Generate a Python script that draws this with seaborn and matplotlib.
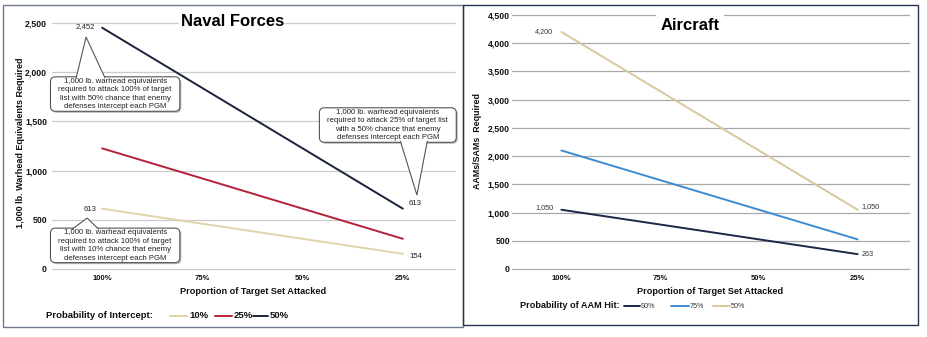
import matplotlib
matplotlib.use("Agg")
import matplotlib.pyplot as plt
import pandas as pd
import seaborn as sns
from matplotlib.lines import Line2D
from matplotlib.patches import Rectangle, FancyBboxPatch, Polygon
from matplotlib.transforms import IdentityTransform

# ---- data -------------------------------------------------------------
proportions = ["100%", "75%", "50%", "25%"]

naval_series = ["10%", "25%", "50%"]
naval_10 = [613, 460, 307, 154]
naval_25 = [1226, 920, 613, 307]
naval_50 = [2452, 1839, 1226, 613]
naval_colors = ["#e0d3aa", "#b3213a", "#1a223a"]
naval_ticks = [0, 500, 1000, 1500, 2000, 2500]

air_series = ["90%", "75%", "50%"]
air_90 = [1050, 788, 525, 263]
air_75 = [2100, 1575, 1050, 525]
air_50 = [4200, 3150, 2100, 1050]
air_colors = ["#1b2946", "#3b8bd0", "#d8c79b"]
air_ticks = [0, 500, 1000, 1500, 2000, 2500, 3000, 3500, 4000, 4500]


def long_frame(series_names, series_values):
    rows = []
    for name, vals in zip(series_names, series_values):
        for p, v in zip(proportions, vals):
            rows.append({"Proportion": p, "Value": v, "Series": name})
    return pd.DataFrame(rows)


naval_df = long_frame(naval_series, [naval_10, naval_25, naval_50])
air_df = long_frame(air_series, [air_90, air_75, air_50])

# ---- style ------------------------------------------------------------
sns.set_style("white")
plt.rcParams["font.family"] = ["Liberation Sans", "DejaVu Sans"]

W, H = 928, 337
fig = plt.figure(figsize=(W / 100, H / 100), dpi=100)


def fx(px):
    return px / W


def fy(py):
    return 1 - py / H


ax1 = fig.add_axes([fx(52), fy(269), fx(403), 246 / H])
ax2 = fig.add_axes([fx(512), fy(269), fx(397), 254 / H])

sns.lineplot(data=naval_df, x="Proportion", y="Value", hue="Series",
             hue_order=naval_series, palette=naval_colors, sort=False,
             legend=False, linewidth=1.4, ax=ax1)
sns.lineplot(data=air_df, x="Proportion", y="Value", hue="Series",
             hue_order=air_series, palette=air_colors, sort=False,
             legend=False, linewidth=1.4, ax=ax2)


def style_axes(ax, ticks, ymax, grid_color, ypad):
    ax.set_xlim(-0.5, 3.52)
    ax.set_ylim(0, ymax)
    ax.set_yticks(ticks)
    ax.set_yticklabels([f"{t:,}" for t in ticks])
    ax.set_xticks(range(len(proportions)))
    ax.set_xticklabels(proportions)
    ax.grid(axis="y", color=grid_color, linewidth=0.9)
    ax.grid(axis="x", visible=False)
    ax.set_axisbelow(True)
    for gl in ax.get_ygridlines():
        gl.set_clip_on(False)
    for s in ax.spines.values():
        s.set_visible(False)
    ax.tick_params(axis="y", length=0, labelsize=6.3, pad=ypad, colors="#111111")
    ax.tick_params(axis="x", length=0, labelsize=5.5, pad=4.5, colors="#111111")
    for lbl in ax.get_xticklabels() + ax.get_yticklabels():
        lbl.set_fontweight("bold")
    ax.set_xlabel("Proportion of Target Set Attacked", fontsize=6.6,
                  fontweight="bold", color="#111111")


style_axes(ax1, naval_ticks, 2500, "#cbcbcb", 3.6)
style_axes(ax2, air_ticks, 4500, "#a9a9a9", 1.5)
ax1.xaxis.set_label_coords(0.5, -0.073)
ax2.xaxis.set_label_coords(0.5, -0.071)

ax1.set_ylabel("1,000 lb. Warhead Equivalents Required", fontsize=6.5,
               fontweight="bold", color="#111111")
ax1.yaxis.set_label_coords(-0.067, 0.514)
ax2.set_ylabel("AAMs/SAMs  Required", fontsize=6.4,
               fontweight="bold", color="#111111")
ax2.yaxis.set_label_coords(-0.0756, 0.502)

# ---- titles -----------------------------------------------------------
ax1.text(0.447, 1.008, "Naval Forces", transform=ax1.transAxes, ha="center",
         va="center", fontsize=12, fontweight="bold", color="#000000",
         bbox=dict(boxstyle="square,pad=0.1", fc="white", ec="none"))
ax2.text(0.448, 0.957, "Aircraft", transform=ax2.transAxes, ha="center",
         va="center", fontsize=12, fontweight="bold", color="#000000",
         bbox=dict(boxstyle="square,pad=0.25", fc="white", ec="none"))


# ---- data labels ------------------------------------------------------
def value_label(ax, idx, value, dx, dy, ha, size, color):
    ax.annotate(f"{value:,}", xy=(idx, value), xytext=(dx, dy),
                textcoords="offset pixels", ha=ha, va="center",
                fontsize=size, color=color)


value_label(ax1, 0, naval_50[0], -7, 1, "right", 5.6, "#222222")
value_label(ax1, 0, naval_10[0], -6, -1, "right", 5.6, "#222222")
value_label(ax1, 3, naval_50[3], 6, 5, "left", 5.6, "#222222")
value_label(ax1, 3, naval_10[3], 6, -3, "left", 5.6, "#222222")

value_label(ax2, 0, air_50[0], -8, 0, "right", 5.2, "#333333")
value_label(ax2, 0, air_90[0], -8, 2, "right", 5.2, "#333333")
value_label(ax2, 3, air_50[3], 4, 3, "left", 5.2, "#333333")
value_label(ax2, 3, air_90[3], 4, 0, "left", 5.2, "#333333")

# ---- callouts (text now, bubble drawn once text extents are known) ----
callouts = [
    dict(ax=ax1,
         text="1,000 lb. warhead equivalents\nrequired to attack 100% of target\n"
              "list with 50% chance that enemy\ndefenses intercept each PGM",
         center=(0.13, 1778), tip=(-0.16, 2357), side="top", base=0.31, width=29),
    dict(ax=ax1,
         text="1,000 lb. warhead equivalents\nrequired to attack 25% of target list\n"
              "with a 50% chance that enemy\ndefenses intercept each PGM",
         center=(2.85, 1463), tip=(3.14, 752), side="bottom", base=0.69, width=27),
    dict(ax=ax1,
         text="1,000 lb. warhead equivalents\nrequired to attack 100% of target\n"
              "list with 10% chance that enemy\ndefenses intercept each PGM",
         center=(0.13, 240), tip=(-0.15, 518), side="top", base=0.27, width=27),
]
for c in callouts:
    c["artist"] = c["ax"].text(*c["center"], c["text"], ha="center", va="center",
                               fontsize=5.6, color="#222222", linespacing=1.3,
                               zorder=6)

fig.canvas.draw()
renderer = fig.canvas.get_renderer()
PADX, PADY = 8, 1.0
for c in callouts:
    ax = c["ax"]
    bb = c["artist"].get_window_extent(renderer)
    x0, y0 = bb.x0 - PADX, bb.y0 - PADY
    w, h = bb.width + 2 * PADX, bb.height + 2 * PADY
    shadow = FancyBboxPatch((x0 + 1.5, y0 - 1.5), w, h,
                            boxstyle="round,pad=0,rounding_size=5",
                            fc="#b8b8b8", ec="none", transform=IdentityTransform(),
                            clip_on=False, zorder=4.3)
    box = FancyBboxPatch((x0, y0), w, h, boxstyle="round,pad=0,rounding_size=5",
                         fc="white", ec="#555555", lw=0.8,
                         transform=IdentityTransform(), clip_on=False, zorder=4.5)
    ax.add_patch(shadow)
    ax.add_patch(box)
    tip = ax.transData.transform(c["tip"])
    bx = x0 + c["base"] * w
    yb = (y0 + h - 1.3) if c["side"] == "top" else (y0 + 1.3)
    pointer = Polygon([(bx - c["width"] / 2, yb), tuple(tip), (bx + c["width"] / 2, yb)],
                      closed=False, fc="white", ec="#555555", lw=0.8,
                      transform=IdentityTransform(), clip_on=False, zorder=4.7)
    ax.add_patch(pointer)

# ---- legends ----------------------------------------------------------
fig.text(fx(46), fy(316), "Probability of Intercept:", fontsize=6.8,
         fontweight="bold", va="center", ha="left", color="#111111")
for (x0, x1), name, col in zip([(170, 187), (215, 232), (253, 268)],
                               naval_series, naval_colors):
    fig.add_artist(Line2D([fx(x0), fx(x1)], [fy(316), fy(316)], color=col,
                          lw=1.4, transform=fig.transFigure))
    fig.text(fx(x1 + 2), fy(316), name, fontsize=6.8, fontweight="bold",
             va="center", ha="left", color="#111111")

fig.text(fx(520), fy(306), "Probability of AAM Hit:", fontsize=6.6,
         fontweight="bold", va="center", ha="left", color="#111111")
for (x0, x1), name, col in zip([(624, 640), (671, 689), (713, 730)],
                               air_series, air_colors):
    fig.add_artist(Line2D([fx(x0), fx(x1)], [fy(306), fy(306)], color=col,
                          lw=1.4, transform=fig.transFigure))
    fig.text(fx(x1 + 1), fy(306), name, fontsize=5.2,
             va="center", ha="left", color="#333333")

# ---- panel frames -----------------------------------------------------
fig.add_artist(Rectangle((fx(3), fy(327)), 460 / W, 322 / H, fill=False,
                         ec="#6d7a8c", lw=1.0, transform=fig.transFigure))
fig.add_artist(Rectangle((fx(463), fy(325)), 455 / W, 320 / H, fill=False,
                         ec="#243450", lw=1.0, transform=fig.transFigure))

fig.savefig("out.png", dpi=100, facecolor="white")
